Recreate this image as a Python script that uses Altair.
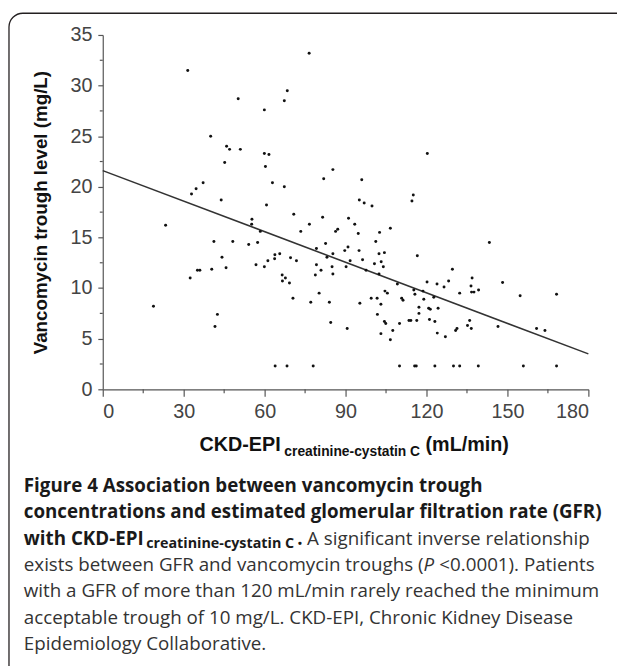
import altair as alt
import pandas as pd

# ---- data ----
gfr = [
    31.5, 50.2, 40.0, 45.9, 47.0, 51.0, 45.2, 37.2, 34.6, 32.9, 43.9, 23.3, 55.3, 55.2, 41.2, 48.2, 54.1, 57.4,
    76.5, 68.4, 67.3, 59.9, 59.9, 61.6, 60.3, 85.3, 62.9, 67.3, 81.9, 96.0, 115.1, 114.6, 95.1, 96.9, 99.8, 60.7,
    70.8, 81.5, 91.1, 76.6, 93.4, 106.6, 73.4, 87.1, 86.3, 102.6, 94.7, 58.4, 82.6, 101.2, 90.9, 89.7, 95.0, 79.2, 104.4,
    120.3, 143.3,
    18.8, 32.4, 35.1, 36.0, 40.4, 44.2, 45.7, 42.5, 41.6, 56.8,
    59.9, 61.2, 63.7, 63.8, 65.6, 69.6, 71.8, 66.5, 66.6, 67.7, 69.2, 70.5, 77.1, 80.2, 79.2, 78.8, 80.9, 83.1, 85.3,
    85.0, 85.3, 84.0, 84.5, 90.2, 91.7, 90.6, 96.3, 97.6, 95.3, 99.5, 101.7, 100.7, 102.4, 103.2, 104.0, 102.4, 103.1,
    101.8, 104.6, 105.5, 104.4, 104.9, 103.1, 107.5, 106.6, 109.2, 110.8, 111.3, 110.0, 114.2, 115.3,
    63.9, 68.3, 78.0, 110.0,
    116.6, 115.7, 118.7, 120.2, 119.0, 123.9, 126.5, 128.2, 129.6, 122.7, 117.2, 117.2, 113.5, 116.4, 120.8, 121.4,
    124.3, 121.1, 123.1, 124.0, 127.0, 130.8, 131.3, 132.3, 135.2, 136.0, 136.6, 136.9, 136.5, 136.7, 137.6, 139.3,
    148.2, 146.5, 154.7, 160.8, 163.9, 168.2,
    115.6, 116.2, 123.1, 130.0, 132.3, 139.2, 155.9, 168.2,
]
trough = [
    31.5, 28.7, 25.0, 24.0, 23.7, 23.7, 22.4, 20.4, 19.8, 19.3, 18.7, 16.2, 16.8, 16.3, 14.6, 14.6, 14.3, 14.5,
    33.2, 29.5, 28.5, 27.6, 23.3, 23.2, 22.0, 21.7, 20.4, 20.0, 20.8, 20.7, 19.2, 18.6, 18.7, 18.4, 18.1, 18.2,
    17.3, 17.0, 16.9, 16.3, 16.3, 15.9, 15.6, 15.8, 15.6, 15.5, 15.4, 15.6, 14.4, 14.6, 14.05, 13.7, 13.7, 13.9, 13.5,
    23.3, 14.5,
    8.2, 11.0, 11.75, 11.75, 11.85, 13.05, 12.0, 7.4, 6.2, 12.3,
    12.1, 12.7, 12.9, 13.3, 13.4, 13.0, 12.7, 11.3, 10.7, 11.0, 10.5, 9.0, 8.6, 9.5, 12.3, 11.3, 11.75, 13.05, 13.4,
    12.1, 11.4, 8.6, 6.6, 12.1, 12.7, 6.0, 12.8, 11.75, 8.5, 9.0, 9.0, 12.4, 13.4, 12.6, 12.1, 11.4, 8.4,
    7.4, 9.7, 9.5, 6.7, 6.5, 5.5, 5.8, 4.9, 10.4, 9.0, 8.8, 6.5, 6.8, 9.8,
    2.3, 2.3, 2.3, 2.3,
    13.2, 9.4, 9.7, 10.6, 8.9, 10.4, 10.1, 10.7, 11.85, 9.1, 8.1, 7.5, 6.8, 6.8, 8.0, 7.9,
    8.0, 6.9, 6.7, 5.55, 5.2, 5.8, 6.0, 9.5, 6.3, 6.8, 6.0, 11.0, 10.2, 9.6, 9.6, 9.8,
    10.55, 6.2, 9.25, 6.0, 5.8, 9.4,
    2.3, 2.3, 2.3, 2.3, 2.3, 2.3, 2.3, 2.3,
]
fit_x = [0, 180]
fit_y = [21.6, 3.5]
x_major = [0, 30, 60, 90, 120, 150, 180]
x_minor = [15, 45, 75, 105, 135, 165]
y_major = [0, 5, 10, 15, 20, 25, 30, 35]
y_minor = [2.5, 7.5, 12.5, 17.5, 22.5, 27.5, 32.5]

pts = pd.DataFrame({"gfr": gfr, "trough": trough})
fit = pd.DataFrame({"gfr": fit_x, "trough": fit_y})

W, H = 492, 359
AX = "#555555"
xs = alt.Scale(domain=[0, 180], nice=False, zero=False)
ys = alt.Scale(domain=[0, 35], nice=False, zero=False)

points = alt.Chart(pts).mark_circle(size=9, color="#111111", opacity=1).encode(
    x=alt.X("gfr:Q", scale=xs, axis=alt.Axis(
        values=x_major, title=None, grid=False, domainColor=AX, domainWidth=1.2,
        tickColor=AX, tickWidth=1.2, tickSize=7, labelFont="Liberation Sans",
        labelFontSize=20, labelColor="#444444", labelPadding=6)),
    y=alt.Y("trough:Q", scale=ys, axis=alt.Axis(
        values=y_major, title=None, grid=False, domainColor=AX, domainWidth=1.2,
        tickColor=AX, tickWidth=1.2, tickSize=5, labelFont="Liberation Sans",
        labelFontSize=20, labelColor="#444444", labelPadding=6)),
)

line = alt.Chart(fit).mark_line(color="#333333", strokeWidth=1.6).encode(
    x=alt.X("gfr:Q", scale=xs), y=alt.Y("trough:Q", scale=ys))

xminor = alt.Chart(pd.DataFrame({"v": x_minor})).mark_rule(color=AX, strokeWidth=1.2).encode(
    x=alt.X("v:Q", scale=xs), y=alt.value(H), y2=alt.value(H + 4))
yminor = alt.Chart(pd.DataFrame({"v": y_minor})).mark_rule(color=AX, strokeWidth=1.2).encode(
    y=alt.Y("v:Q", scale=ys), x=alt.value(-3), x2=alt.value(0))

border = alt.Chart(pd.DataFrame({"a": [0]})).mark_rect(
    filled=False, stroke="#231f20", strokeWidth=1.3, cornerRadius=14).encode(
    x=alt.value(-95), y=alt.value(-22), x2=alt.value(720), y2=alt.value(720))


def txt(s, x, y, size, bold=False, italic=False, color="#231f20", font="Open Sans",
        align="left", angle=0, baseline="middle"):
    kw = dict(align=align, baseline=baseline, fontSize=size, font=font, color=color)
    if bold:
        kw["fontWeight"] = "bold"
    if italic:
        kw["fontStyle"] = "italic"
    if angle:
        kw["angle"] = angle
    return alt.Chart(pd.DataFrame({"t": [s]})).mark_text(**kw).encode(
        x=alt.value(x), y=alt.value(y), text="t:N")


AF = "Liberation Sans"
texts = [
    txt("Vancomycin trough level (mg/L)", -62, 180, 19, bold=True, font=AF, color="#111111",
        align="center", angle=270),
    txt("CKD-EPI", 98, 416, 20, bold=True, font=AF, color="#111111"),
    txt("creatinine-cystatin C", 184, 423, 14, bold=True, font=AF, color="#111111"),
    txt("(mL/min)", 327, 416, 20, bold=True, font=AF, color="#111111"),
]

C = "#333333"
B = "#1a1a1a"
FS = 19
cx = -80
cy = [457 + k * 26.7 for k in range(7)]
texts += [
    txt("Figure 4 Association between vancomycin trough", cx, cy[0], FS, bold=True, color=B),
    txt("concentrations and estimated glomerular filtration rate (GFR)", cx, cy[1], FS, bold=True, color=B),
    txt("with CKD-EPI", cx, cy[2], FS, bold=True, color=B),
    txt("creatinine-cystatin C", cx + 124, cy[2] + 5, 14.5, bold=True, color=B),
    txt(".", cx + 277, cy[2], FS, bold=True, color=B),
    txt("A significant inverse relationship", cx + 287, cy[2], FS, color=C),
    txt("exists between GFR and vancomycin troughs (", cx, cy[3], FS, color=C),
    txt("P", cx + 405, cy[3], FS, italic=True, color=C),
    txt("<0.0001). Patients", cx + 421, cy[3], FS, color=C),
    txt("with a GFR of more than 120 mL/min rarely reached the minimum", cx, cy[4], FS, color=C),
    txt("acceptable trough of 10 mg/L. CKD-EPI, Chronic Kidney Disease", cx, cy[5], FS, color=C),
    txt("Epidemiology Collaborative.", cx, cy[6], FS, color=C),
]

chart = alt.layer(border, xminor, yminor, line, points, *texts).properties(
    width=W, height=H,
    padding={"left": 96, "top": 23, "right": 29, "bottom": 276},
    autosize=alt.AutoSizeParams(type="none"),
    background="white",
).configure_view(stroke=None)

chart.save("out.html", embed_options={"renderer": "svg", "actions": False})
